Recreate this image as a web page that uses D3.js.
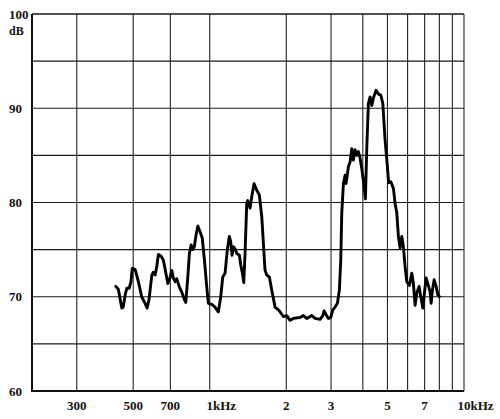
<!DOCTYPE html>
<html>
<head>
<meta charset="utf-8">
<script src="https://cdn.jsdelivr.net/npm/d3@7"></script>
<style>
  html, body { margin: 0; padding: 0; background: #fff; }
  text { font-family: 'Liberation Serif', 'Times New Roman', serif; font-weight: bold; fill: #111; }
</style>
</head>
<body>
<svg width="500" height="419"></svg>
<script>
// frequency (Hz) and level (dB)
const freqs = [427, 437, 444, 451, 457, 465, 472, 482, 490, 496, 509, 524, 540, 557, 567, 577, 592, 600, 610, 619,
  628, 644, 657, 667, 684, 698, 709, 719, 731, 742, 758, 776, 795, 805, 820, 832, 845, 858, 870, 884,
  898, 916, 935, 953, 973, 988, 1019, 1049, 1081, 1105, 1125, 1149, 1173, 1194, 1210, 1224, 1238, 1258, 1277, 1308,
  1324, 1348, 1361, 1377, 1398, 1411, 1441, 1463, 1494, 1531, 1567, 1602, 1650, 1676, 1716, 1754, 1807, 1862, 1891, 1948,
  2009, 2070, 2133, 2266, 2335, 2408, 2520, 2596, 2717, 2784, 2817, 2869, 2929, 2994, 3048, 3112, 3177, 3235, 3276, 3306,
  3355, 3407, 3438, 3510, 3565, 3620, 3673, 3730, 3788, 3843, 3903, 3963, 4047, 4095, 4147, 4207, 4273, 4339, 4403, 4511,
  4606, 4707, 4794, 4895, 4998, 5053, 5154, 5277, 5358, 5441, 5521, 5606, 5693, 5776, 5866, 5957, 6099, 6233, 6324, 6422,
  6522, 6660, 6781, 6887, 6988, 7097, 7207, 7359, 7425, 7514, 7630, 7769, 7890, 8006];
const levels = [71.1, 70.8, 69.8, 68.8, 68.9, 70.2, 70.9, 70.9, 71.6, 73.0, 72.9, 71.6, 70.0, 69.3, 68.8, 69.7, 72.3, 72.6, 72.3, 73.2,
  74.5, 74.3, 73.9, 73.0, 71.4, 72.0, 72.8, 72.0, 71.6, 71.9, 71.1, 70.5, 69.7, 69.4, 72.1, 74.6, 75.5, 75.0, 75.3, 76.6,
  77.5, 76.9, 76.2, 73.9, 71.1, 69.3, 69.2, 68.9, 68.4, 70.0, 72.1, 72.5, 75.0, 76.4, 75.8, 74.4, 75.3, 75.1, 74.6, 74.4,
  73.4, 72.3, 71.5, 74.6, 79.9, 80.2, 79.4, 80.6, 82.0, 81.3, 80.8, 78.5, 72.8, 72.3, 72.1, 70.7, 68.9, 68.6, 68.4, 67.9,
  68.0, 67.5, 67.7, 67.8, 68.0, 67.7, 68.0, 67.7, 67.6, 68.0, 68.5, 68.1, 67.7, 67.8, 68.6, 68.9, 69.3, 70.7, 73.9, 78.9,
  82.0, 82.9, 82.0, 83.8, 84.3, 85.7, 84.5, 85.6, 85.0, 85.4, 84.7, 83.6, 81.7, 80.4, 85.9, 90.5, 91.2, 90.3, 91.1, 91.9,
  91.5, 91.4, 90.5, 86.6, 83.8, 82.1, 82.2, 81.5, 79.9, 78.9, 76.4, 75.2, 76.4, 75.3, 73.2, 71.6, 71.2, 72.5, 71.4, 69.1,
  70.4, 71.1, 69.8, 68.8, 70.4, 72.0, 71.4, 70.5, 69.3, 70.7, 71.8, 71.1, 70.2, 70.0];

const gridFreqs = [300, 500, 700, 1000, 2000, 3000, 4000, 5000, 6000, 7000, 8000, 9000, 10000];
const gridLevels = [65, 70, 75, 80, 85, 90, 95, 100];
const yTickLevels = [60, 70, 80, 90, 100];
const xTickFreqs = [300, 500, 700, 1000, 2000, 3000, 5000, 7000, 10000];
const xTickNums = ['300', '500', '700', '1', '2', '3', '5', '7', '10'];
const xTickUnits = ['', '', '', 'kHz', '', '', '', '', 'kHz'];

let svg = d3.select('svg'),
  margin = { top: 14, right: 36, bottom: 28, left: 32 },
  width = +svg.attr('width') - margin.left - margin.right,
  height = +svg.attr('height') - margin.top - margin.bottom,
  g = svg.append('g').attr('transform', `translate(${margin.left}, ${margin.top})`);

let x = d3.scaleLog().domain([200, 10000]).range([0, width]);
let y = d3.scaleLinear().domain([60, 100]).range([height, 0]);

// grid
g.append('g')
  .selectAll('line')
  .data(gridFreqs)
  .join('line')
  .attr('x1', (d) => x(d)).attr('x2', (d) => x(d))
  .attr('y1', 0).attr('y2', height)
  .attr('stroke', '#222')
  .attr('stroke-width', 1.1);

g.append('g')
  .selectAll('line')
  .data(gridLevels)
  .join('line')
  .attr('x1', 0).attr('x2', width)
  .attr('y1', (d) => y(d)).attr('y2', (d) => y(d))
  .attr('stroke', '#1a1a1a')
  .attr('stroke-width', (d) => d === 100 ? 1.5 : 1.2);

// left and bottom frame
g.append('path')
  .attr('d', `M0,0V${height}H${width}`)
  .attr('fill', 'none')
  .attr('stroke', '#111')
  .attr('stroke-width', 2);

// y labels
svg.append('g')
  .selectAll('text')
  .data(yTickLevels)
  .join('text')
  .attr('x', 9)
  .attr('y', (d) => margin.top + y(d))
  .attr('dy', '0.35em')
  .attr('font-size', '13px')
  .text((d) => d);

svg.append('text')
  .attr('x', 9)
  .attr('y', 35)
  .attr('font-size', '12px')
  .text('dB');

// x labels: number centred on the line, unit trailing
xTickFreqs.forEach((f, i) => {
  let cx = margin.left + x(f);
  let num = svg.append('text')
    .attr('x', cx)
    .attr('y', 410)
    .attr('text-anchor', 'middle')
    .attr('font-size', '13px')
    .text(xTickNums[i]);
  if (xTickUnits[i]) {
    let w = num.node().getComputedTextLength();
    svg.append('text')
      .attr('x', cx + w / 2)
      .attr('y', 410)
      .attr('font-size', '13px')
      .text(xTickUnits[i]);
  }
});

// trace
let line = d3.line()
  .x((d, i) => x(freqs[i]))
  .y((d) => y(d));

g.append('path')
  .datum(levels)
  .attr('d', line)
  .attr('fill', 'none')
  .attr('stroke', '#000')
  .attr('stroke-width', 2.9)
  .attr('stroke-linejoin', 'round')
  .attr('stroke-linecap', 'round');
</script>
</body>
</html>
